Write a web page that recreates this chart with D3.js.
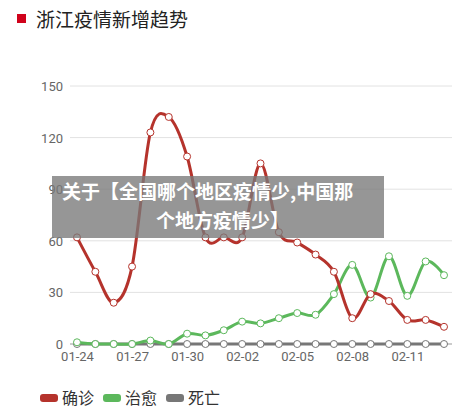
<!DOCTYPE html>
<html><head><meta charset="utf-8">
<script src="https://cdn.jsdelivr.net/npm/d3@7"></script>
<style>body{margin:0;background:#fff;font-family:"Noto Sans CJK SC","Noto Sans",sans-serif;}</style>
</head><body><div id="chart"></div>
<script>
const dates = ["01-24","01-25","01-26","01-27","01-28","01-29","01-30","01-31","02-01","02-02","02-03","02-04","02-05","02-06","02-07","02-08","02-09","02-10","02-11","02-12","02-13"];
const confirmed = [62,42,24,45,123,132,109,62,62,62,105,65,59,52,42,15,29,25,14,14,10];
const cured = [1,0,0,0,2,0,6,5,8,13,12,15,18,17,29,46,27,51,28,48,40];
const deaths = [0,0,0,0,0,0,0,0,0,0,0,0,0,0,0,0,0,0,0,0,0];
const yTicks = [0,30,60,90,120,150];
const tickDates = ["01-24","01-27","01-30","02-02","02-05","02-08","02-11"];
const series = [
  {name:"确诊", values:confirmed, color:"#b5332c"},
  {name:"治愈", values:cured, color:"#5cb85c"},
  {name:"死亡", values:deaths, color:"#777"}
];

const W = 466, H = 416;
const svg = d3.select("#chart").append("svg").attr("width", W).attr("height", H);

svg.append("rect").attr("x",17).attr("y",14).attr("width",9).attr("height",9).attr("fill","#d0021b");
svg.append("text").attr("x",36).attr("y",27).attr("font-size",19).attr("fill","#222").text("浙江疫情新增趋势");

const x = d3.scalePoint().domain(dates).range([77, 444]);
const y = d3.scaleLinear().domain([0,150]).range([344, 86]);

const grid = svg.append("g");
grid.selectAll("line").data(yTicks).enter().append("line")
  .attr("x1",70).attr("x2",452).attr("y1",d=>y(d)).attr("y2",d=>y(d))
  .attr("stroke",d=>d===0?"#999":"#e2e2e2").attr("stroke-width",1);
grid.selectAll("text").data(yTicks).enter().append("text")
  .attr("x",63).attr("y",d=>y(d)+5).attr("text-anchor","end")
  .attr("font-size",13).attr("fill","#666").attr("font-family","Roboto,sans-serif").text(d=>d);

const xa = svg.append("g").attr("transform",`translate(0,${y(0)})`)
  .call(d3.axisBottom(x).tickValues(tickDates).tickSize(0).tickPadding(8));
xa.select(".domain").remove();
xa.selectAll("text").attr("font-size",13).attr("fill","#666").attr("font-family","Roboto,sans-serif");

const line = d3.line().x((d,i)=>x(dates[i])).y(d=>y(d)).curve(d3.curveCardinal.tension(0));
[...series].reverse().forEach(s=>{
  svg.append("path").datum(s.values).attr("fill","none").attr("stroke",s.color)
    .attr("stroke-width",3).attr("d",line);
  svg.append("g").selectAll("circle").data(s.values).enter().append("circle")
    .attr("cx",(d,i)=>x(dates[i])).attr("cy",d=>y(d)).attr("r",3.5)
    .attr("fill","#fff").attr("stroke",s.color).attr("stroke-width",1);
});

const lg = svg.append("g").selectAll("g").data(series).enter().append("g")
  .attr("transform",(d,i)=>`translate(${40+i*63},398)`);
lg.append("rect").attr("x",0).attr("y",-4).attr("width",18).attr("height",8).attr("rx",3).attr("fill",d=>d.color);
lg.append("text").attr("x",22).attr("y",6).attr("font-size",16).attr("fill","#333").text(d=>d.name);

svg.append("rect").attr("x",52).attr("y",176).attr("width",332).attr("height",62).attr("fill","rgba(120,120,120,0.78)");
svg.append("text").attr("x",62).attr("y",199).attr("font-size",19).attr("font-weight","bold").attr("fill","#fff").text("关于【全国哪个地区疫情少,中国那");
svg.append("text").attr("x",156).attr("y",228).attr("font-size",19).attr("font-weight","bold").attr("fill","#fff").text("个地方疫情少】");
</script></body></html>
